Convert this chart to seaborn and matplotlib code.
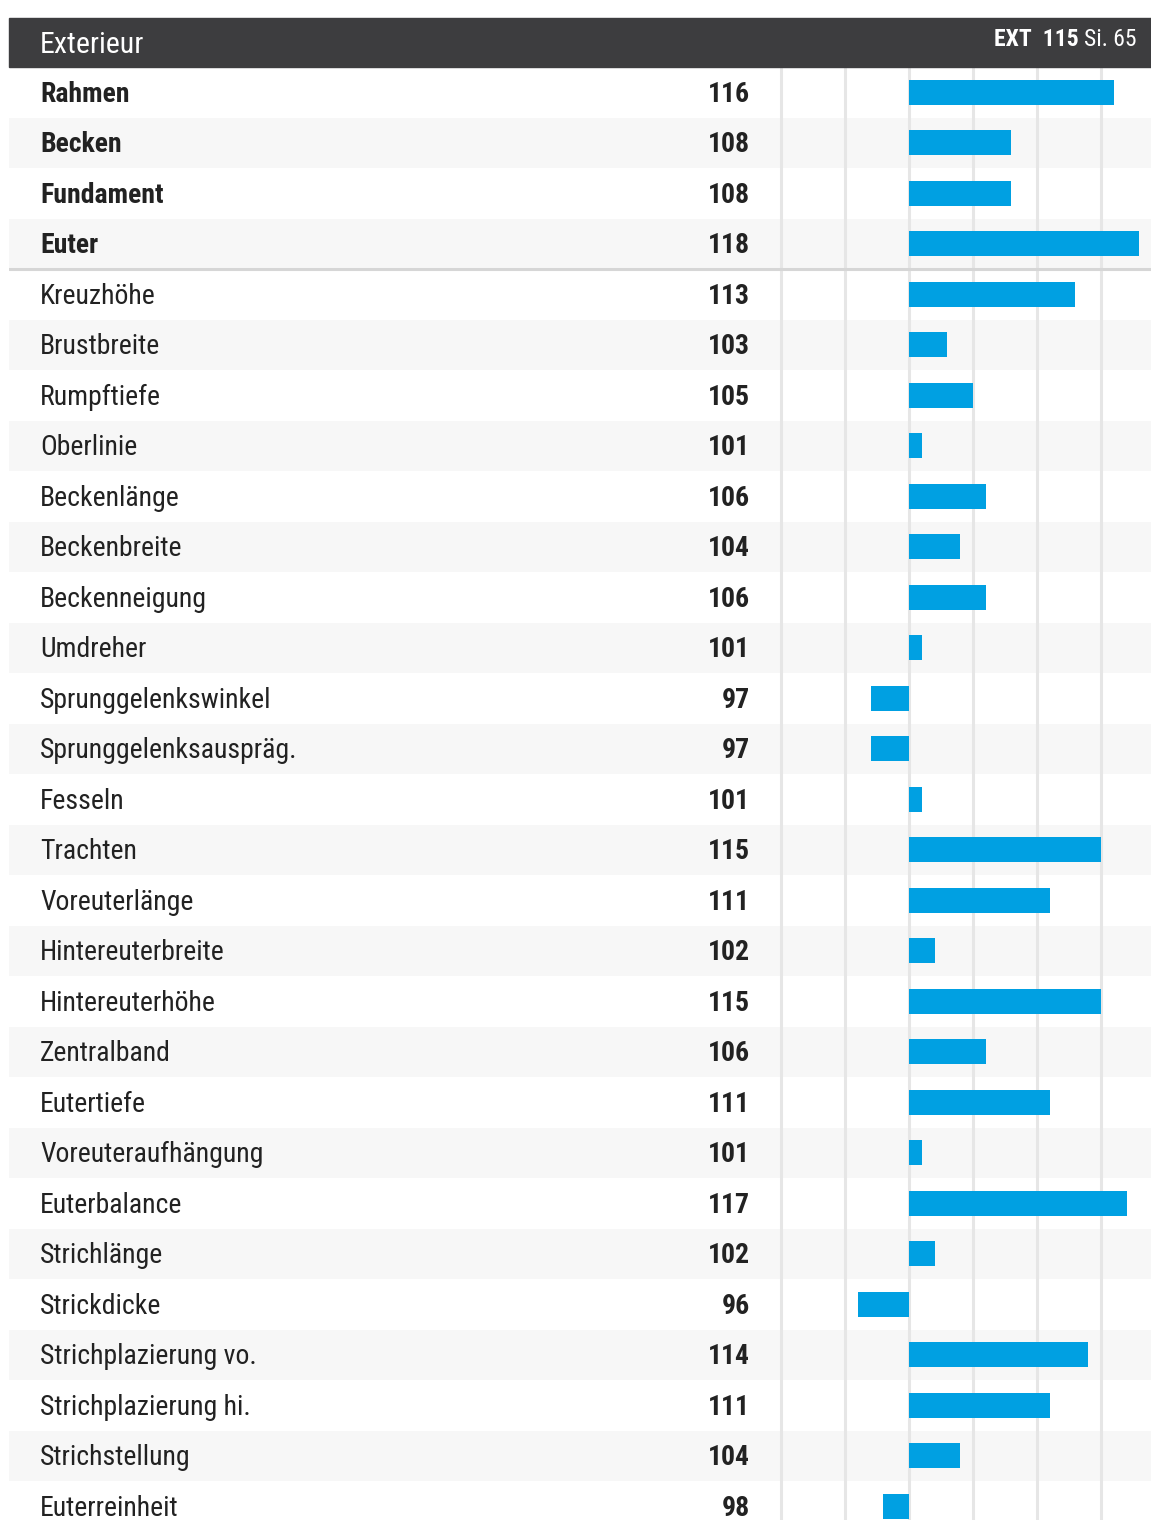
import numpy as np
import pandas as pd
import matplotlib
matplotlib.use("Agg")
import matplotlib.pyplot as plt
from matplotlib.patches import Rectangle
import seaborn as sns

# --- data ---
merkmale = [
    "Rahmen", "Becken", "Fundament", "Euter",
    "Kreuzhöhe", "Brustbreite", "Rumpftiefe", "Oberlinie", "Beckenlänge",
    "Beckenbreite", "Beckenneigung", "Umdreher", "Sprunggelenkswinkel",
    "Sprunggelenksauspräg.", "Fesseln", "Trachten", "Voreuterlänge",
    "Hintereuterbreite", "Hintereuterhöhe", "Zentralband", "Eutertiefe",
    "Voreuteraufhängung", "Euterbalance", "Strichlänge", "Strickdicke",
    "Strichplazierung vo.", "Strichplazierung hi.", "Strichstellung", "Euterreinheit",
]
werte = [
    116, 108, 108, 118,
    113, 103, 105, 101, 106,
    104, 106, 101, 97,
    97, 101, 115, 111,
    102, 115, 106, 111,
    101, 117, 102, 96,
    114, 111, 104, 98,
]
n_haupt = 4
titel = "Exterieur"
ext_label = "EXT  115"
si_label = "Si. 65"
basis = 100
gitter = [90, 95, 100, 105, 110, 115]

BLAU = "#00a0e2"
KOPF = "#3d3d3f"
TEXT = "#222222"

sns.set_theme(style="white")
plt.rcParams["font.family"] = ["Roboto Condensed", "Roboto", "DejaVu Sans"]

df = pd.DataFrame({"merkmal": merkmale, "wert": werte})
df["abw"] = df["wert"] - basis

W, H = 1151, 1520
fig = plt.figure(figsize=(W / 100, H / 100), dpi=100)
fig.patch.set_facecolor("white")

# Kopfzeile
fig.patches.append(Rectangle((9 / W, 1 - 67 / H), (W - 9) / W, 49 / H,
                             transform=fig.transFigure, color=KOPF, zorder=0))
fig.text(40 / W, 1 - 45 / H, titel, color="white", fontsize=21.5, va="center", ha="left")
si = fig.text(1136 / W, 1 - 40 / H, si_label, color="white", fontsize=17, va="center", ha="right")
r = fig.canvas.get_renderer()
bb = si.get_window_extent(renderer=r)
fig.text((bb.x0 - 5) / W, 1 - 40 / H, ext_label, color="white", fontsize=17, va="center",
         ha="right", fontweight="bold")

# Tabelle
ax = fig.add_axes([9 / W, 0, (W - 9) / W, (H - 67) / H])
px = 12.8  # Pixel je Punkt
ax.set_xlim((9 - 909) / px, (W - 909) / px)
n = len(merkmale)
unten = -0.5 + (H - 67) / 50.5

for i in range(n):
    if i % 2 == 1:
        ax.axhspan(i - 0.5, i + 0.5, color="#f7f7f7", zorder=0, lw=0)
for g in gitter:
    ax.axvline(g - basis, color="#e6e6e6", lw=2.2, zorder=0.5)
ax.axhline(n_haupt - 0.5, color="#d6d6d6", lw=2.2, zorder=0.6)

sns.barplot(data=df, x="abw", y="merkmal", orient="h", color=BLAU, saturation=1,
            width=0.5, ax=ax, zorder=2, linewidth=0)

ax.set_ylim(unten, -0.5)
ax.set_xlabel("")
ax.set_ylabel("")
ax.set_xticks([])
ax.set_yticks([])
for s in ax.spines.values():
    s.set_visible(False)

trans = ax.get_yaxis_transform()
for i, (m, w) in enumerate(zip(merkmale, werte)):
    gewicht = "bold" if i < n_haupt else "normal"
    ax.text((40 - 9) / (W - 9), i + 0.035, m, transform=trans, ha="left", va="center",
            fontsize=20, color=TEXT, fontweight=gewicht)
    ax.text((750 - 9) / (W - 9), i + 0.035, str(w), transform=trans, ha="right", va="center",
            fontsize=20, color=TEXT, fontweight="bold")

fig.savefig("out.png", dpi=100)
